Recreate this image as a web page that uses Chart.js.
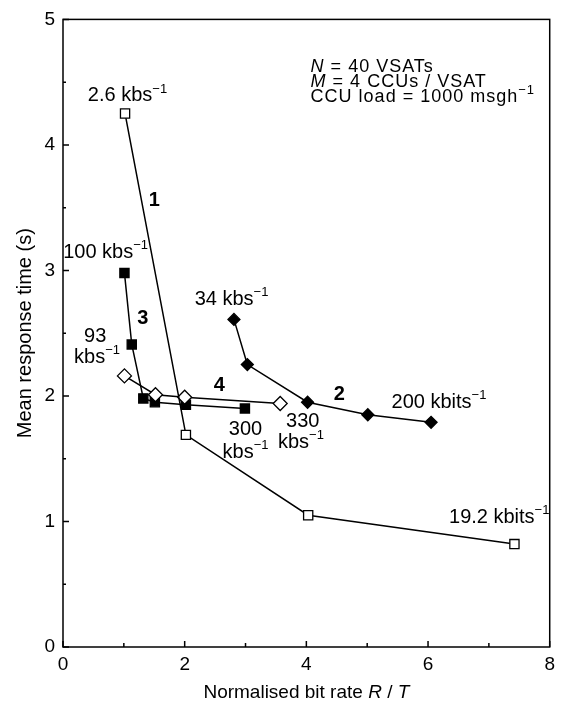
<!DOCTYPE html>
<html>
<head>
<meta charset="utf-8">
<script src="https://cdn.jsdelivr.net/npm/chart.js@4.4.1/dist/chart.umd.min.js"></script>
<style>
html,body{margin:0;padding:0;background:#fff}
#wrap{width:561px;height:702px}
</style>
</head>
<body>
<div id="wrap"><canvas id="chart" width="561" height="702"></canvas></div>
<script>
// curve 1: open squares (2.6 kbs -> 19.2 kbit/s)
const curve1X=[1.02,2.02,4.03,7.42];
const curve1Y=[4.25,1.69,1.05,0.82];
// curve 2: filled diamonds (34 kbs -> 200 kbit/s)
const curve2X=[2.81,3.03,4.02,5.01,6.05];
const curve2Y=[2.61,2.25,1.95,1.85,1.79];
// curve 3: filled squares (100 kbs -> 300 kbs)
const curve3X=[1.01,1.13,1.32,1.51,2.02,2.99];
const curve3Y=[2.98,2.41,1.98,1.95,1.93,1.90];
// curve 4: open diamonds (93 kbs -> 330 kbs)
const curve4X=[1.01,1.52,2.0,3.57];
const curve4Y=[2.16,2.01,1.99,1.94];

const xTicks=[0,2,4,6,8];
const yTicks=[0,1,2,3,4,5];

const FONT='"Liberation Sans", Arial, sans-serif';
const FS=19;   // tick labels
const NS=20;   // notes / titles

// text notes in data units: [x, y, align, parts]
const notes=[
  [1.06,4.39,"center",[["2.6 kbs",""],["\u22121","s"]]],
  [1.50,3.56,"center",[["1","b"]]],
  [0.70,3.14,"center",[["100 kbs",""],["\u22121","s"]]],
  [1.31,2.62,"center",[["3","b"]]],
  [0.53,2.47,"center",[["93",""]]],
  [0.56,2.31,"center",[["kbs",""],["\u22121","s"]]],
  [2.77,2.77,"center",[["34 kbs",""],["\u22121","s"]]],
  [2.57,2.08,"center",[["4","b"]]],
  [3.00,1.73,"center",[["300",""]]],
  [3.00,1.55,"center",[["kbs",""],["\u22121","s"]]],
  [3.94,1.80,"center",[["330",""]]],
  [3.91,1.63,"center",[["kbs",""],["\u22121","s"]]],
  [4.54,2.01,"center",[["2","b"]]],
  [6.18,1.95,"center",[["200 kbits",""],["\u22121","s"]]],
  [7.17,1.03,"center",[["19.2 kbits",""],["\u22121","s"]]]
];
// parameter box, top right
const infoLines=[
  [4.07,4.62,[["N","i"],[" = 40 VSATs",""]]],
  [4.07,4.50,[["M","i"],[" = 4 CCUs / VSAT",""]]],
  [4.07,4.38,[["CCU load = 1000 msgh",""],["\u22121","s"]]]
];

function pts(xs,ys){return xs.map((x,i)=>({x,y:ys[i]}));}

function fontFor(k,size){
  if(k==="s") return "13px "+FONT;
  if(k==="i") return "italic "+size+"px "+FONT;
  if(k==="b") return "bold "+size+"px "+FONT;
  return size+"px "+FONT;
}
function drawRich(ctx,parts,x,y,align,size,spacing){
  size=size||NS;
  ctx.letterSpacing=(spacing||0)+"px";
  let w=0;
  for(const [t,k] of parts){ctx.font=fontFor(k,size);w+=ctx.measureText(t).width;}
  let cx=align==="left"?x:(align==="right"?x-w:x-w/2);
  ctx.textAlign="left";ctx.textBaseline="middle";ctx.fillStyle="#000";
  for(const [t,k] of parts){
    ctx.font=fontFor(k,size);
    ctx.fillText(t,cx,k==="s"?y-7:y);
    cx+=ctx.measureText(t).width;
  }
  ctx.letterSpacing="0px";
}

const decor={
  id:"decor",
  afterDraw(chart){
    const ctx=chart.ctx, a=chart.chartArea, sx=chart.scales.x, sy=chart.scales.y;
    ctx.save();
    ctx.strokeStyle="#000";ctx.lineWidth=1.5;
    ctx.strokeRect(a.left,a.top,a.right-a.left,a.bottom-a.top);
    ctx.beginPath();
    for(let v=0;v<=8;v+=1){
      const px=sx.getPixelForValue(v), len=v%2===0?6:4;
      ctx.moveTo(px,a.bottom);ctx.lineTo(px,a.bottom-len);
    }
    for(let v=0;v<=5;v+=0.5){
      const py=sy.getPixelForValue(v), len=Number.isInteger(v)?6:3;
      ctx.moveTo(a.left,py);ctx.lineTo(a.left+len,py);
    }
    ctx.stroke();
    for(const [x,y,al,parts] of notes){
      drawRich(ctx,parts,sx.getPixelForValue(x),sy.getPixelForValue(y),al);
    }
    for(const [x,y,parts] of infoLines){
      drawRich(ctx,parts,sx.getPixelForValue(x),sy.getPixelForValue(y),"left",18,1);
    }
    // axis titles
    drawRich(ctx,[["Normalised bit rate ",""],["R","i"],[" / ",""],["T","i"]],(a.left+a.right)/2,693,"center",19);
    ctx.translate(25,(a.top+a.bottom)/2);
    ctx.rotate(-Math.PI/2);
    drawRich(ctx,[["Mean response time (s)",""]],0,0,"center",20);
    ctx.restore();
  }
};

const lineStyle={showLine:true,borderColor:"#000",borderWidth:1.5,pointBorderColor:"#000",pointBorderWidth:1.3,tension:0};

new Chart(document.getElementById("chart"),{
  type:"scatter",
  data:{datasets:[
    {...lineStyle,label:"1",data:pts(curve1X,curve1Y),pointStyle:"rect",pointRadius:6.5,pointBackgroundColor:"#fff"},
    {...lineStyle,label:"2",data:pts(curve2X,curve2Y),pointStyle:"rectRot",pointRadius:6,pointBackgroundColor:"#000"},
    {...lineStyle,label:"4",data:pts(curve4X,curve4Y),pointStyle:"rectRot",pointRadius:7,pointBackgroundColor:"#fff"},
    {...lineStyle,label:"3",data:pts(curve3X,curve3Y),pointStyle:"rect",pointRadius:6.5,pointBackgroundColor:"#000"}
  ]},
  options:{
    responsive:false,
    devicePixelRatio:1,
    animation:false,
    layout:{padding:{left:0,right:6,top:18,bottom:0}},
    plugins:{legend:{display:false},tooltip:{enabled:false}},
    scales:{
      x:{type:"linear",min:0,max:8,
        afterFit(s){s.height=55;},
        afterBuildTicks(s){s.ticks=xTicks.map(v=>({value:v}));},
        grid:{display:false,drawTicks:false},border:{display:false},
        ticks:{color:"#000",font:{family:FONT,size:FS},padding:6,maxRotation:0}},
      y:{type:"linear",min:0,max:5,
        afterFit(s){s.width=63;},
        afterBuildTicks(s){s.ticks=yTicks.map(v=>({value:v}));},
        grid:{display:false,drawTicks:false},border:{display:false},
        ticks:{color:"#000",font:{family:FONT,size:FS},padding:8}}
    }
  },
  plugins:[decor]
});
</script>
</body>
</html>
